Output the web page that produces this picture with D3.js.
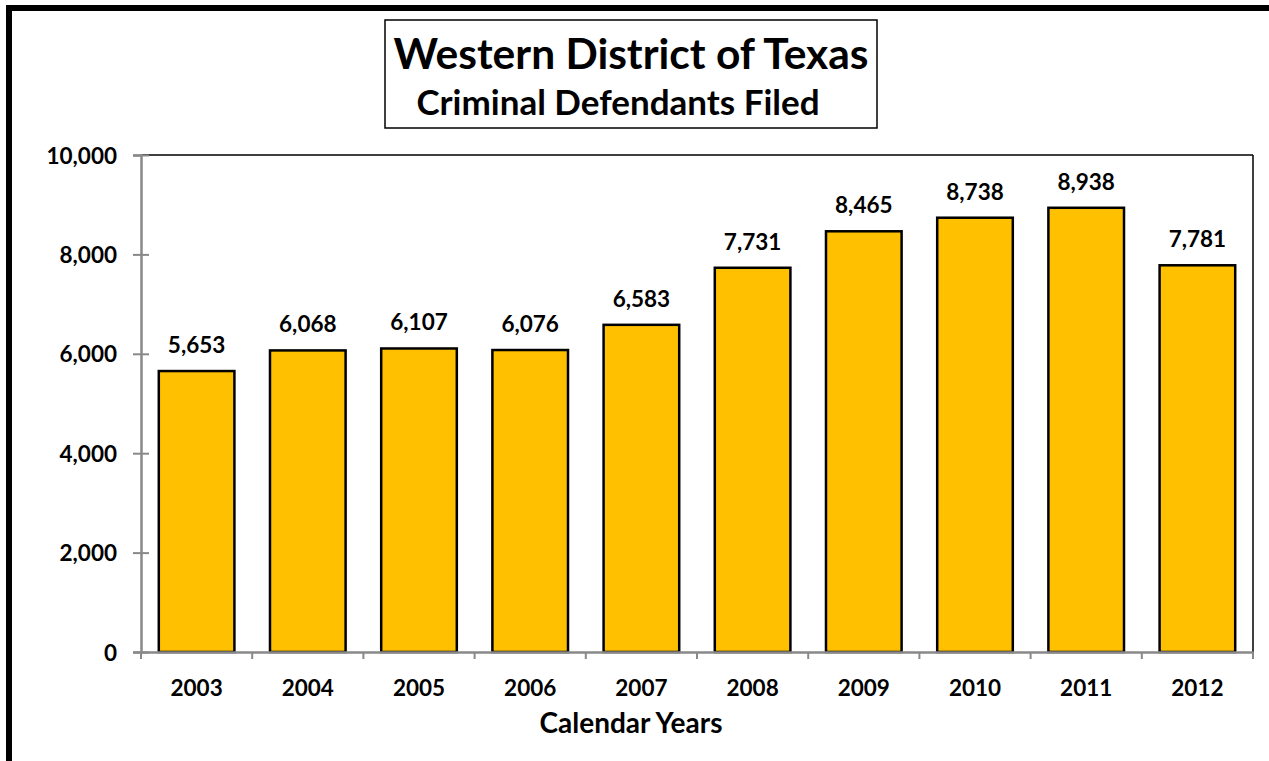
<!DOCTYPE html>
<html>
<head>
<meta charset="utf-8">
<script src="https://cdn.jsdelivr.net/npm/d3@7"></script>
<style>
  html, body { margin: 0; padding: 0; background: #fff; }
  svg { display: block; }
  text { font-family: Lato, "Open Sans", sans-serif; font-weight: 700; fill: #000; }
</style>
</head>
<body>
<svg id="chart" width="1269" height="761"></svg>
<script>
const categories = ["2003","2004","2005","2006","2007","2008","2009","2010","2011","2012"];
const values = [5653, 6068, 6107, 6076, 6583, 7731, 8465, 8738, 8938, 7781];
const yTicks = [0, 2000, 4000, 6000, 8000, 10000];
const titleText = "Western District of Texas";
const subtitleText = "Criminal Defendants Filed";
const xAxisTitle = "Calendar Years";

const svg = d3.select("#chart");
const W = 1269, H = 761;
const plot = { left: 141, right: 1253, top: 155, bottom: 652 };
const centerX = 631;

// outer frame (extends beyond right/bottom)
svg.append("rect").attr("x", 9).attr("y", 8).attr("width", W + 20).attr("height", H + 20)
  .attr("fill", "none").attr("stroke", "#000").attr("stroke-width", 6);

const x = d3.scaleBand().domain(categories).range([plot.left, plot.right])
  .paddingInner(0.32).paddingOuter(0.16);
const y = d3.scaleLinear().domain([0, 10000]).range([plot.bottom, plot.top]);

// plot frame top and right (black)
svg.append("line").attr("x1", plot.left).attr("x2", plot.right).attr("y1", plot.top).attr("y2", plot.top)
  .attr("stroke", "#000").attr("stroke-width", 1.5);
svg.append("line").attr("x1", plot.right).attr("x2", plot.right).attr("y1", plot.top).attr("y2", plot.bottom)
  .attr("stroke", "#000").attr("stroke-width", 1.5);

// bars
svg.append("g").selectAll("rect").data(values).join("rect")
  .attr("x", (d, i) => x(categories[i]))
  .attr("y", d => y(d))
  .attr("width", x.bandwidth())
  .attr("height", d => y(0) - y(d))
  .attr("fill", "#FFC000")
  .attr("stroke", "#000")
  .attr("stroke-width", 2.5);

// y axis
const yAxis = svg.append("g").attr("transform", `translate(${plot.left},0)`)
  .call(d3.axisLeft(y).tickValues(yTicks).tickFormat(d3.format(",")).tickSize(8).tickPadding(16));
yAxis.select(".domain").attr("stroke", "#898989").attr("stroke-width", 2.5);
yAxis.selectAll(".tick line").attr("x1", -8).attr("x2", 8).attr("stroke", "#898989").attr("stroke-width", 2);
yAxis.selectAll(".tick text").attr("font-size", 22.5).attr("font-family", "Lato, sans-serif")
  .attr("font-weight", 700).attr("fill", "#000").attr("dy", "0.36em");

// x axis
const xAxis = svg.append("g").attr("transform", `translate(0,${plot.bottom})`)
  .call(d3.axisBottom(x).tickSize(0).tickPadding(28));
xAxis.select(".domain").attr("stroke", "#898989").attr("stroke-width", 2.5);
xAxis.selectAll(".tick text").attr("font-size", 22.5).attr("font-family", "Lato, sans-serif")
  .attr("font-weight", 700).attr("fill", "#000");
const bounds = categories.map(c => x(c) - x.step() * x.paddingInner() / 2).concat([plot.right]);
xAxis.selectAll(".bound").data(bounds).join("line").attr("class", "bound")
  .attr("x1", d => d).attr("x2", d => d).attr("y1", 0).attr("y2", 7)
  .attr("stroke", "#898989").attr("stroke-width", 2);

// data labels
svg.append("g").selectAll("text").data(values).join("text")
  .attr("x", (d, i) => x(categories[i]) + x.bandwidth() / 2)
  .attr("y", d => y(d) - 18)
  .attr("text-anchor", "middle")
  .attr("font-size", 22.5)
  .text(d => d3.format(",")(d));

// title box
svg.append("rect").attr("x", 385).attr("y", 20).attr("width", 492).attr("height", 108)
  .attr("fill", "#fff").attr("stroke", "#000").attr("stroke-width", 1.5);
svg.append("text").attr("x", 631).attr("y", 69).attr("text-anchor", "middle")
  .attr("font-size", 42.5).text(titleText);
svg.append("text").attr("x", 618).attr("y", 115).attr("text-anchor", "middle")
  .attr("font-size", 35).text(subtitleText);

// x axis title
svg.append("text").attr("x", centerX).attr("y", 733).attr("text-anchor", "middle")
  .attr("font-size", 28).text(xAxisTitle);
</script>
</body>
</html>
